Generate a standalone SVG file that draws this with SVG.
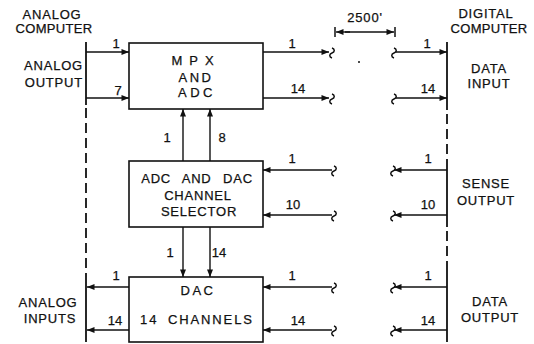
<svg xmlns="http://www.w3.org/2000/svg" width="534" height="344" viewBox="0 0 534 344">
<defs>
<style>
text{font-family:"Liberation Sans",Arial,sans-serif;font-size:13px;fill:#111;stroke:#111;stroke-width:0.25;letter-spacing:0.8px}
.m{text-anchor:middle}
.e{text-anchor:end}
.n{font-size:13px;letter-spacing:0}
.box{fill:#fff;stroke:#111;stroke-width:1.6}
.ln{fill:none;stroke:#111;stroke-width:1.5}
.ar{fill:none;stroke:#111;stroke-width:1.4}
.bus{fill:none;stroke:#111;stroke-width:1.8}
.dash{stroke-dasharray:10 5}
.sq{fill:none;stroke:#111;stroke-width:1.5}
</style>
<marker id="ah" viewBox="0 0 10 8" refX="10" refY="4" markerWidth="8" markerHeight="6" markerUnits="userSpaceOnUse" orient="auto">
<path d="M0,0 L10,4 L0,8 z" fill="#111"/>
</marker>
<path id="sqg" d="M0,-5 C3,-4 3,-1 0,0 C-3,1 -3,4 0,5"/>
</defs>

<g id="bus-lines">
<line class="bus" x1="86" y1="42" x2="86" y2="105"/>
<line class="bus dash" x1="86" y1="108" x2="86" y2="277"/>
<line class="bus" x1="86" y1="277" x2="86" y2="342"/>
<line class="bus" x1="447" y1="42" x2="447" y2="110"/>
<line class="bus dash" x1="447" y1="114" x2="447" y2="160"/>
<line class="bus" x1="447" y1="160" x2="447" y2="227"/>
<line class="bus dash" x1="447" y1="231" x2="447" y2="270"/>
<line class="bus" x1="447" y1="270" x2="447" y2="342"/>
</g>

<g id="node-mpx">
<rect class="box" x="129" y="43" width="134" height="66"/>
<text class="m" x="196" y="65" style="letter-spacing:7px">MPX</text>
<text class="m" x="196" y="82" style="letter-spacing:2.5px">AND</text>
<text class="m" x="197" y="97" style="letter-spacing:3.5px">ADC</text>
</g>

<g id="node-selector">
<rect class="box" x="129" y="161" width="134" height="66"/>
<text class="m" x="197" y="183" style="word-spacing:7px">ADC AND DAC</text>
<text class="m" x="198" y="200">CHANNEL</text>
<text class="m" x="199" y="216">SELECTOR</text>
</g>

<g id="node-dac">
<rect class="box" x="129" y="277" width="134" height="65"/>
<text class="m" x="198" y="295" style="letter-spacing:2.5px">DAC</text>
<text class="m" x="197" y="324" style="letter-spacing:1.9px;word-spacing:4px">14 CHANNELS</text>
</g>

<g id="labels">
<text class="m" x="52" y="19">ANALOG</text>
<text class="m" x="54" y="33" style="letter-spacing:0.3px">COMPUTER</text>
<text class="e" x="83" y="70">ANALOG</text>
<text class="e" x="83" y="87">OUTPUT</text>
<text class="m" x="48" y="307">ANALOG</text>
<text class="m" x="50" y="323">INPUTS</text>
<text class="m" x="486" y="18">DIGITAL</text>
<text class="m" x="489" y="33" style="letter-spacing:0.3px">COMPUTER</text>
<text class="m" x="489" y="73">DATA</text>
<text class="m" x="489" y="88">INPUT</text>
<text class="m" x="486" y="188">SENSE</text>
<text class="m" x="486" y="205">OUTPUT</text>
<text class="m" x="490" y="306">DATA</text>
<text class="m" x="490" y="322">OUTPUT</text>
<text class="m" x="365" y="22">2500'</text>
</g>

<g id="connectors">
<!-- dimension -->
<line class="ln" x1="335" y1="27" x2="335" y2="37"/>
<line class="ln" x1="395" y1="27" x2="395" y2="37"/>
<line class="ar" x1="350" y1="32" x2="336" y2="32" marker-end="url(#ah)"/>
<line class="ar" x1="345" y1="32" x2="394" y2="32" marker-end="url(#ah)"/>
<circle cx="359" cy="62" r="1" fill="#111"/>

<!-- analog output to MPX -->
<line class="ar" x1="86" y1="52" x2="129" y2="52" marker-end="url(#ah)"/>
<line class="ar" x1="86" y1="98" x2="129" y2="98" marker-end="url(#ah)"/>
<!-- MPX out -->
<line class="ar" x1="263" y1="52" x2="329" y2="52" marker-end="url(#ah)"/>
<line class="ar" x1="263" y1="98" x2="329" y2="98" marker-end="url(#ah)"/>
<use href="#sqg" class="sq" x="332" y="53"/>
<use href="#sqg" class="sq" x="332" y="99"/>
<!-- data input -->
<use href="#sqg" class="sq" x="394" y="53"/>
<use href="#sqg" class="sq" x="394" y="99"/>
<line class="ar" x1="396" y1="52" x2="447" y2="52" marker-end="url(#ah)"/>
<line class="ar" x1="396" y1="98" x2="447" y2="98" marker-end="url(#ah)"/>

<!-- selector to MPX -->
<line class="ar" x1="183" y1="161" x2="183" y2="109" marker-end="url(#ah)"/>
<line class="ar" x1="210" y1="161" x2="210" y2="109" marker-end="url(#ah)"/>
<!-- selector to DAC -->
<line class="ar" x1="183" y1="227" x2="183" y2="277" marker-end="url(#ah)"/>
<line class="ar" x1="210" y1="227" x2="210" y2="277" marker-end="url(#ah)"/>

<!-- sense into selector -->
<use href="#sqg" class="sq" x="334" y="171"/>
<use href="#sqg" class="sq" x="334" y="216"/>
<line class="ar" x1="332" y1="170" x2="263" y2="170" marker-end="url(#ah)"/>
<line class="ar" x1="332" y1="215" x2="263" y2="215" marker-end="url(#ah)"/>
<line class="ar" x1="447" y1="170" x2="394" y2="170" marker-end="url(#ah)"/>
<line class="ar" x1="447" y1="215" x2="394" y2="215" marker-end="url(#ah)"/>
<use href="#sqg" class="sq" x="393" y="171"/>
<use href="#sqg" class="sq" x="393" y="216"/>

<!-- data output into DAC -->
<use href="#sqg" class="sq" x="334" y="288"/>
<use href="#sqg" class="sq" x="334" y="331"/>
<line class="ar" x1="332" y1="287" x2="263" y2="287" marker-end="url(#ah)"/>
<line class="ar" x1="332" y1="330" x2="263" y2="330" marker-end="url(#ah)"/>
<line class="ar" x1="447" y1="287" x2="394" y2="287" marker-end="url(#ah)"/>
<line class="ar" x1="447" y1="330" x2="394" y2="330" marker-end="url(#ah)"/>
<use href="#sqg" class="sq" x="393" y="288"/>
<use href="#sqg" class="sq" x="393" y="331"/>

<!-- DAC to analog inputs -->
<line class="ar" x1="129" y1="287" x2="87" y2="287" marker-end="url(#ah)"/>
<line class="ar" x1="129" y1="330" x2="87" y2="330" marker-end="url(#ah)"/>

<!-- wire counts -->
<text class="n m" x="116" y="48">1</text>
<text class="n m" x="118" y="95">7</text>
<text class="n m" x="292" y="48">1</text>
<text class="n m" x="298" y="93">14</text>
<text class="n m" x="427" y="48">1</text>
<text class="n m" x="428" y="93">14</text>
<text class="n m" x="167" y="142">1</text>
<text class="n m" x="222" y="142">8</text>
<text class="n m" x="292" y="163">1</text>
<text class="n m" x="293" y="209">10</text>
<text class="n m" x="428" y="163">1</text>
<text class="n m" x="428" y="209">10</text>
<text class="n m" x="170" y="257">1</text>
<text class="n m" x="219" y="257">14</text>
<text class="n m" x="116" y="280">1</text>
<text class="n m" x="115" y="325">14</text>
<text class="n m" x="292" y="280">1</text>
<text class="n m" x="298" y="325">14</text>
<text class="n m" x="428" y="280">1</text>
<text class="n m" x="428" y="325">14</text>
</g>
</svg>
